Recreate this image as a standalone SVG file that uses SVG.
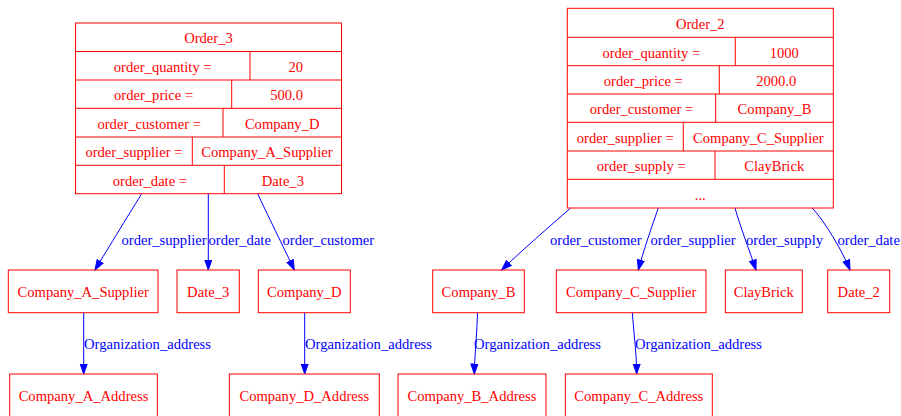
<svg xmlns="http://www.w3.org/2000/svg" width="901" height="416" viewBox="0 0 901 416">
<defs>
<style>
.n rect, .n line { fill: none; stroke: #ff0000; stroke-width: 1; }
text { font-family: "Liberation Serif", "Times New Roman", serif; font-size: 14.6px; }
.n text { fill: #ff0000; text-anchor: middle; }
#edges path { fill: none; stroke: #0000ff; stroke-width: 1; marker-end: url(#arr); }
#edges text { fill: #0000ff; }
</style>
<marker id="arr" markerUnits="userSpaceOnUse" markerWidth="12" markerHeight="9" refX="10.5" refY="4" orient="auto" viewBox="0 0 12 9">
<path d="M0.5,0.5 L10.5,4 L0.5,7.5 z" fill="#0000ff" stroke="#0000ff" stroke-width="1"/>
</marker>
</defs>
<rect width="901" height="416" fill="#ffffff"/>

<g id="edges">
<path d="M141.7,193.7 C134,206 107,250 95,270"/>
<text x="121.5" y="244.5">order_supplier</text>
<path d="M208.3,193.7 L208.3,270"/>
<text x="208.5" y="244.5">order_date</text>
<path d="M257.7,193.7 C265,210 285,250 294.3,270"/>
<text x="282.5" y="244.5">order_customer</text>

<path d="M570.7,208 C550,226 520,252 501.7,270"/>
<text x="550" y="244.5">order_customer</text>
<path d="M658.3,208 C652,226 643,252 638.3,270"/>
<text x="650.5" y="244.5">order_supplier</text>
<path d="M735,208 C740,226 750,252 756,270"/>
<text x="746" y="244.5">order_supply</text>
<path d="M812.3,208 C825,222 842,250 850,270"/>
<text x="837.5" y="244.5">order_date</text>

<path d="M83.7,312.7 L83.7,374"/>
<text x="84" y="348.5">Organization_address</text>
<path d="M304.7,312.7 L304.7,374"/>
<text x="305" y="348.5">Organization_address</text>
<path d="M477.5,312.7 C477,335 474.5,355 474.3,374"/>
<text x="474" y="348.5">Organization_address</text>
<path d="M632.3,312.7 C634,335 636.7,355 636.7,374"/>
<text x="635" y="348.5">Organization_address</text>
</g>

<g id="Order_3" class="n">
<rect x="75.5" y="23" width="266" height="170.7"/>
<line x1="75.5" y1="51.5" x2="341.5" y2="51.5"/>
<line x1="75.5" y1="80" x2="341.5" y2="80"/>
<line x1="75.5" y1="108.3" x2="341.5" y2="108.3"/>
<line x1="75.5" y1="137" x2="341.5" y2="137"/>
<line x1="75.5" y1="165.3" x2="341.5" y2="165.3"/>
<line x1="250" y1="51.5" x2="250" y2="80"/>
<line x1="231.7" y1="80" x2="231.7" y2="108.3"/>
<line x1="223" y1="108.3" x2="223" y2="137"/>
<line x1="192.3" y1="137" x2="192.3" y2="165.3"/>
<line x1="224.3" y1="165.3" x2="224.3" y2="193.7"/>
<text x="208.5" y="43">Order_3</text>
<text x="162.7" y="71.5">order_quantity =</text>
<text x="295.7" y="71.5">20</text>
<text x="153.6" y="100">order_price =</text>
<text x="286.6" y="100">500.0</text>
<text x="149.2" y="128.5">order_customer =</text>
<text x="282.2" y="128.5">Company_D</text>
<text x="133.9" y="157">order_supplier =</text>
<text x="266.9" y="157">Company_A_Supplier</text>
<text x="149.9" y="185.5">order_date =</text>
<text x="282.9" y="185.5">Date_3</text>
</g>

<g id="Order_2" class="n">
<rect x="567.3" y="8.3" width="266" height="199.7"/>
<line x1="567.3" y1="37.3" x2="833.3" y2="37.3"/>
<line x1="567.3" y1="65.7" x2="833.3" y2="65.7"/>
<line x1="567.3" y1="94" x2="833.3" y2="94"/>
<line x1="567.3" y1="122.3" x2="833.3" y2="122.3"/>
<line x1="567.3" y1="151" x2="833.3" y2="151"/>
<line x1="567.3" y1="179.3" x2="833.3" y2="179.3"/>
<line x1="735.3" y1="37.3" x2="735.3" y2="65.7"/>
<line x1="719.3" y1="65.7" x2="719.3" y2="94"/>
<line x1="715.7" y1="94" x2="715.7" y2="122.3"/>
<line x1="683.3" y1="122.3" x2="683.3" y2="151"/>
<line x1="715" y1="151" x2="715" y2="179.3"/>
<text x="700.3" y="29">Order_2</text>
<text x="651.3" y="57.5">order_quantity =</text>
<text x="784.3" y="57.5">1000</text>
<text x="643.3" y="86">order_price =</text>
<text x="776.3" y="86">2000.0</text>
<text x="641.5" y="114.3">order_customer =</text>
<text x="774.5" y="114.3">Company_B</text>
<text x="625.3" y="143">order_supplier =</text>
<text x="758.3" y="143">Company_C_Supplier</text>
<text x="641.2" y="171.3">order_supply =</text>
<text x="774.2" y="171.3">ClayBrick</text>
<text x="700.3" y="199.5">...</text>
</g>

<g id="Company_A_Supplier" class="n"><rect x="8.3" y="270" width="149.7" height="42.7"/><text x="83.2" y="296.5">Company_A_Supplier</text></g>
<g id="Date_3" class="n"><rect x="177" y="270" width="62.3" height="42.7"/><text x="208.2" y="296.5">Date_3</text></g>
<g id="Company_D" class="n"><rect x="258.3" y="270" width="92" height="42.7"/><text x="304.3" y="296.5">Company_D</text></g>
<g id="Company_B" class="n"><rect x="432.7" y="270" width="91.6" height="42.7"/><text x="478.5" y="296.5">Company_B</text></g>
<g id="Company_C_Supplier" class="n"><rect x="556.3" y="270" width="149.7" height="42.7"/><text x="631.2" y="296.5">Company_C_Supplier</text></g>
<g id="ClayBrick" class="n"><rect x="725.3" y="270" width="77" height="42.7"/><text x="763.8" y="296.5">ClayBrick</text></g>
<g id="Date_2" class="n"><rect x="827.7" y="270" width="62" height="42.7"/><text x="858.7" y="296.5">Date_2</text></g>

<g id="Company_A_Address" class="n"><rect x="9.7" y="374" width="147.6" height="43"/><text x="83.5" y="400.5">Company_A_Address</text></g>
<g id="Company_D_Address" class="n"><rect x="229.3" y="374" width="150" height="43"/><text x="304.3" y="400.5">Company_D_Address</text></g>
<g id="Company_B_Address" class="n"><rect x="398" y="374" width="148" height="43"/><text x="472" y="400.5">Company_B_Address</text></g>
<g id="Company_C_Address" class="n"><rect x="565.3" y="374" width="147" height="43"/><text x="638.8" y="400.5">Company_C_Address</text></g>
</svg>
